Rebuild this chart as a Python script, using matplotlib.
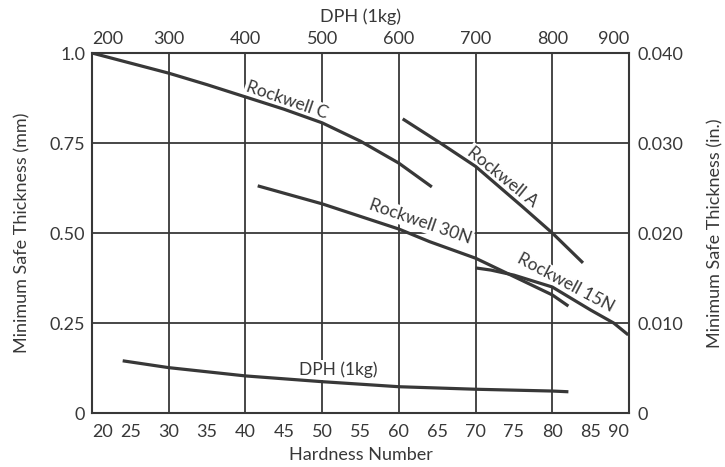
import matplotlib
matplotlib.use('Agg')
import matplotlib.pyplot as pl
import numpy as np

# curves: hardness number -> minimum safe thickness (mm)
rc_hn = [20, 25, 30, 35, 40, 45, 50, 55, 60, 64.3]
rc_mm = [1.0, 0.972, 0.944, 0.912, 0.878, 0.844, 0.806, 0.755, 0.694, 0.628]

ra_hn = [60.5, 65.4, 70, 76, 80, 84]
ra_mm = [0.817, 0.75, 0.685, 0.575, 0.5, 0.417]

r30n_hn = [41.6, 50, 60, 64, 70, 80, 82.1]
r30n_mm = [0.631, 0.581, 0.511, 0.476, 0.43, 0.328, 0.297]

r15n_hn = [70, 72, 75, 80, 85, 88, 89.9]
r15n_mm = [0.403, 0.397, 0.383, 0.35, 0.286, 0.25, 0.217]

dph_hn = [24, 30, 40, 50, 60, 70, 80, 82.1]
dph_mm = [0.145, 0.126, 0.103, 0.087, 0.073, 0.066, 0.061, 0.059]

grid_x = [30, 40, 50, 60, 70, 80]
bottom_ticks = [20, 25, 30, 35, 40, 45, 50, 55, 60, 65, 70, 75, 80, 85, 90]
bottom_minor = [25, 35, 45, 55, 65, 75, 85]
top_ticks = [20, 30, 40, 50, 60, 70, 80, 90]
top_labels = ['200', '300', '400', '500', '600', '700', '800', '900']
left_ticks = [0, 0.25, 0.5, 0.75, 1.0]
left_labels = ['0', '0.25', '0.50', '0.75', '1.0']
right_ticks = [0, 0.010, 0.020, 0.030, 0.040]
right_labels = ['0', '0.010', '0.020', '0.030', '0.040']

ink = '#383838'
pl.rcParams['font.family'] = ['Lato', 'DejaVu Sans']
pl.rcParams['text.color'] = ink

fig = pl.figure(figsize=(7.25, 4.67), dpi=100)
ax = fig.add_axes([92 / 725, 1 - 413 / 467, (629 - 92) / 725, (413 - 53) / 467])

ax.set_xlim(20, 90)
ax.set_ylim(0, 1.0)

for x in grid_x:
    ax.axvline(x, color=ink, lw=1.3, zorder=1)
for y in left_ticks[1:-1]:
    ax.axhline(y, color=ink, lw=1.3, zorder=1)

for s in ax.spines.values():
    s.set_color(ink)
    s.set_linewidth(1.5)

curves = [(rc_hn, rc_mm), (ra_hn, ra_mm), (r30n_hn, r30n_mm),
          (r15n_hn, r15n_mm), (dph_hn, dph_mm)]
for hn, mm in curves:
    ax.plot(hn, mm, color=ink, lw=2.3, solid_capstyle='butt', zorder=4)

box = dict(facecolor='white', edgecolor='none', pad=1)
lab = dict(fontsize=12.5, ha='center', va='center', color=ink, zorder=3, bbox=box)
ax.text(45.4, 0.869, 'Rockwell C', rotation=-19, **lab)
ax.text(73.5, 0.656, 'Rockwell A', rotation=-39, **lab)
ax.text(62.8, 0.531, 'Rockwell 30N', rotation=-19, **lab)
ax.text(81.8, 0.361, 'Rockwell 15N', rotation=-28, **lab)
ax.text(52.1, 0.119, 'DPH (1kg)', **lab)

# bottom axis
ax.set_xticks(bottom_ticks)
ax.set_xticklabels([str(v) for v in bottom_ticks])
ax.set_xticks(bottom_minor, minor=True)
ax.tick_params(axis='x', which='major', length=0, pad=8, labelsize=13, labelcolor=ink)
ax.tick_params(axis='x', which='minor', direction='in', length=9, width=1.3, color=ink)
xl = ax.get_xticklabels()
xl[0].set_ha('left')
xl[-1].set_ha('right')

ax.set_yticks(left_ticks)
ax.set_yticklabels(left_labels)
ax.tick_params(axis='y', length=0, pad=5, labelsize=13, labelcolor=ink)

ax.set_xlabel('Hardness Number', fontsize=13, color=ink, labelpad=5)
ax.set_ylabel('Minimum Safe Thickness (mm)', fontsize=13, color=ink, labelpad=14)

# top axis: DPH (1kg)
top = ax.twiny()
top.set_xlim(ax.get_xlim())
top.set_xticks(top_ticks)
top.set_xticklabels(top_labels)
top.tick_params(axis='x', length=0, pad=4, labelsize=13, labelcolor=ink)
tl = top.get_xticklabels()
tl[0].set_ha('left')
tl[-1].set_ha('right')
top.set_xlabel('DPH (1kg)', fontsize=13, color=ink, labelpad=7)
for s in top.spines.values():
    s.set_visible(False)

# right axis: inches
right = ax.twinx()
right.set_ylim(0, 0.040)
right.set_yticks(right_ticks)
right.set_yticklabels(right_labels)
right.tick_params(axis='y', length=0, pad=6, labelsize=13, labelcolor=ink)
right.set_ylabel('Minimum Safe Thickness (in.)', fontsize=13, color=ink, labelpad=17)
for s in right.spines.values():
    s.set_visible(False)

fig.savefig('out.png', dpi=100, facecolor='white')
